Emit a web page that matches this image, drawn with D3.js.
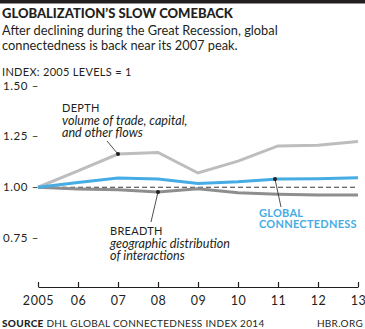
<!DOCTYPE html>
<html><head><meta charset="utf-8">
<script src="https://cdn.jsdelivr.net/npm/d3@7"></script>
<style>
body{margin:0;background:#fff;}
svg{display:block;}
text{font-family:"Lato","Open Sans",sans-serif;}
</style></head><body>
<svg id="c" width="365" height="329"></svg>
<script>
const years = [2005,2006,2007,2008,2009,2010,2011,2012,2013];
const xTickLabels = ["2005","06","07","08","09","10","11","12","13"];
const depth = [1.00,1.08,1.163,1.171,1.070,1.128,1.203,1.206,1.225];
const globalConn = [1.00,1.023,1.046,1.040,1.019,1.027,1.041,1.042,1.047];
const breadth = [1.00,0.992,0.988,0.977,0.992,0.973,0.966,0.962,0.962];
const yTicks = [0.75,1.00,1.25,1.50];

const svg = d3.select("#c");
const x = d3.scaleLinear().domain([2005,2013]).range([38,358]);
const y = d3.scaleLinear().domain([0.5,1.5]).range([289,85.5]);

svg.append("rect").attr("x",0).attr("y",0).attr("width",365).attr("height",3.5).attr("fill","#231f20");

svg.append("text").attr("x",2).attr("y",18).attr("font-size",13).attr("font-weight",900)
  .attr("fill","#231f20").text("GLOBALIZATION’S SLOW COMEBACK");
svg.append("text").attr("x",2).attr("y",35).attr("font-size",12.8).attr("fill","#231f20")
  .text("After declining during the Great Recession, global");
svg.append("text").attr("x",2).attr("y",50).attr("font-size",12.8).attr("fill","#231f20")
  .text("connectedness is back near its 2007 peak.");
svg.append("text").attr("x",2).attr("y",76).attr("font-size",11).attr("fill","#231f20")
  .attr("letter-spacing",0.3).text("INDEX: 2005 LEVELS = 1");

// y tick labels
svg.append("g").selectAll("text").data(yTicks).join("text")
  .attr("x",3).attr("y",d=>y(d)).attr("dy","0.35em").attr("font-size",11.5)
  .attr("fill","#231f20").attr("letter-spacing",0.6)
  .text(d=>d3.format(".2f")(d)+" –");

// baseline dashed
svg.append("line").attr("x1",x(2005)).attr("x2",x(2013)).attr("y1",y(1)).attr("y2",y(1))
  .attr("stroke","#3a3a3a").attr("stroke-width",1.2).attr("stroke-dasharray","5,3");

const line = d3.line().x((d,i)=>x(years[i])).y(d=>y(d));
svg.append("path").datum(depth).attr("d",line).attr("fill","none").attr("stroke","#bdbdbf").attr("stroke-width",3);
svg.append("path").datum(breadth).attr("d",line).attr("fill","none").attr("stroke","#8e8e90").attr("stroke-width",3);
svg.append("path").datum(globalConn).attr("d",line).attr("fill","none").attr("stroke","#45ade3").attr("stroke-width",3);

// x axis
const xAxis = d3.axisBottom(x).tickValues(years).tickSize(0).tickFormat((d,i)=>xTickLabels[i]);
const gx = svg.append("g").attr("transform","translate(0,287)").call(xAxis);
gx.select(".domain").attr("stroke","#231f20").attr("stroke-width",1.2);
gx.selectAll(".tick line").remove();
gx.selectAll(".tick").append("line").attr("y1",0).attr("y2",-5).attr("stroke","#231f20").attr("stroke-width",1.2);
gx.selectAll(".tick text").attr("y",9).attr("font-size",12.5).attr("fill","#231f20")
  .attr("letter-spacing",0.6).attr("font-family","Lato, sans-serif");

// annotations
function dot(cx,cy){svg.append("circle").attr("cx",cx).attr("cy",cy).attr("r",2).attr("fill","#231f20");}
function leader(x1,y1,x2,y2,c){svg.append("line").attr("x1",x1).attr("y1",y1).attr("x2",x2).attr("y2",y2).attr("stroke",c||"#231f20").attr("stroke-width",0.8);}

leader(107,141,x(2007),y(depth[2]));
dot(x(2007),y(depth[2]));
svg.append("text").attr("x",62).attr("y",112).attr("font-size",11).attr("fill","#231f20").attr("letter-spacing",0.3).text("DEPTH");
svg.append("text").attr("x",62).attr("y",125).attr("font-size",12.6).attr("font-style","italic").attr("fill","#231f20").text("volume of trade, capital,");
svg.append("text").attr("x",62).attr("y",137).attr("font-size",12.6).attr("font-style","italic").attr("fill","#231f20").text("and other flows");

leader(x(2008),y(breadth[3]),151,222);
dot(x(2008),y(breadth[3]));
svg.append("text").attr("x",110).attr("y",235).attr("font-size",11).attr("fill","#231f20").attr("letter-spacing",0.3).text("BREADTH");
svg.append("text").attr("x",110).attr("y",248).attr("font-size",12.6).attr("font-style","italic").attr("fill","#231f20").text("geographic distribution");
svg.append("text").attr("x",110).attr("y",260).attr("font-size",12.6).attr("font-style","italic").attr("fill","#231f20").text("of interactions");

const gcx = 275, gcy = y(d3.interpolateNumber(globalConn[5],globalConn[6])((gcx - x(2010))/40));
leader(gcx,gcy,281,207);
dot(gcx,gcy);
svg.append("text").attr("x",259).attr("y",217).attr("font-size",11).attr("font-weight",700).attr("fill","#45ade3").attr("letter-spacing",0.25).text("GLOBAL");
svg.append("text").attr("x",259).attr("y",228).attr("font-size",11).attr("font-weight",700).attr("fill","#45ade3").attr("letter-spacing",0.25).text("CONNECTEDNESS");

// footer
const src = svg.append("text").attr("x",2).attr("y",327).attr("font-size",10).attr("fill","#231f20").attr("letter-spacing",0.3);
src.append("tspan").attr("font-weight",900).text("SOURCE");
src.append("tspan").text(" DHL GLOBAL CONNECTEDNESS INDEX 2014");
svg.append("text").attr("x",363).attr("y",327).attr("text-anchor","end").attr("font-size",10).attr("fill","#231f20").attr("letter-spacing",0.3).text("HBR.ORG");
</script>
</body></html>
